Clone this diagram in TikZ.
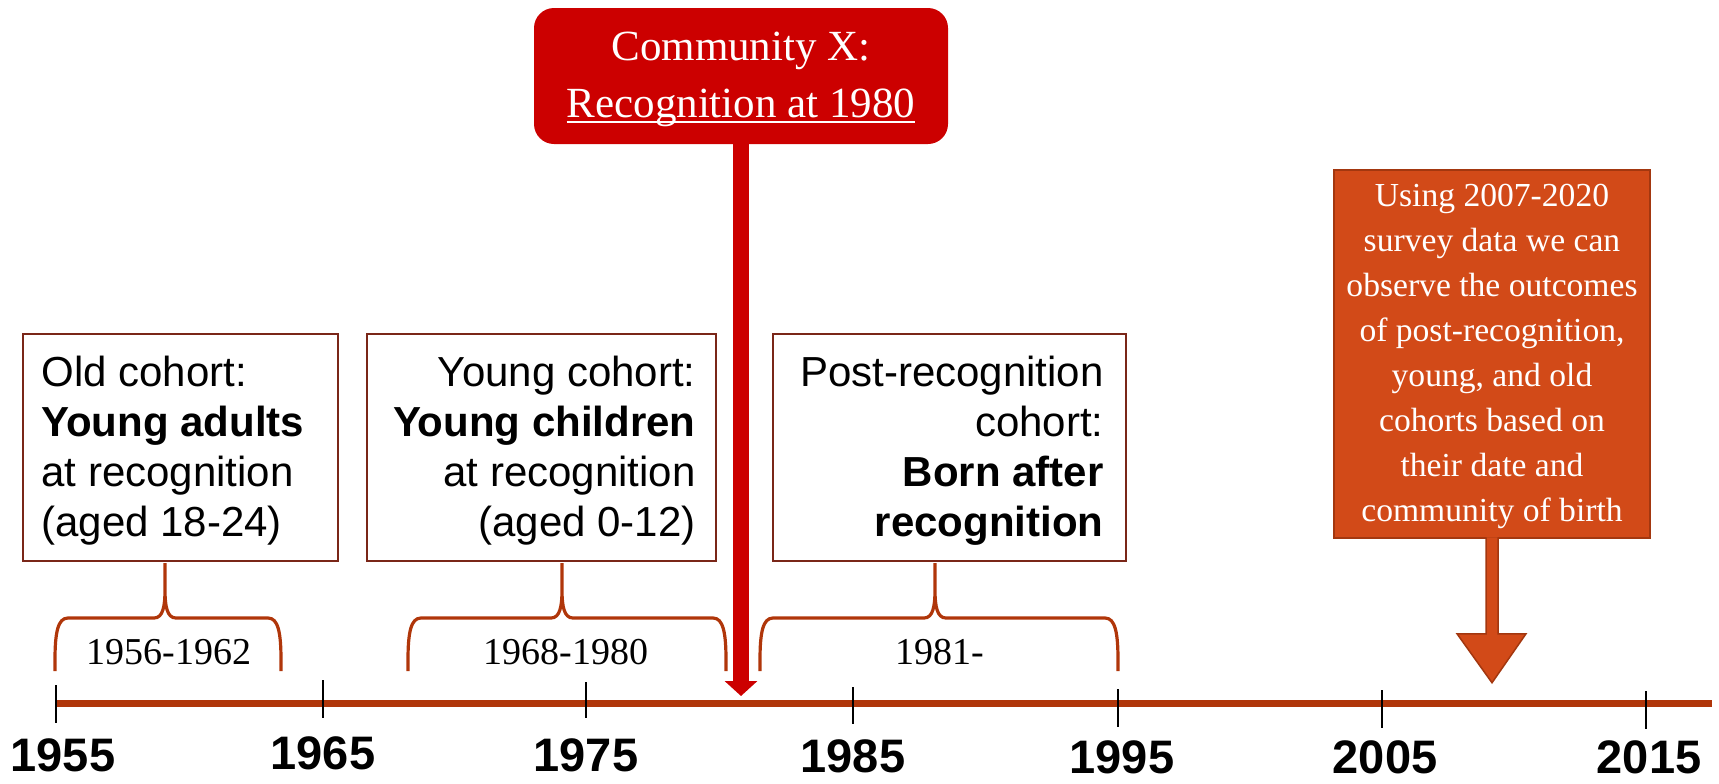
\documentclass[tikz,border=0pt]{standalone}
\usepackage{fontspec}
\setmainfont{Liberation Serif}
\setsansfont{Liberation Sans}
\usetikzlibrary{arrows.meta,calc}
\definecolor{recred}{HTML}{CC0000}
\definecolor{lineor}{HTML}{B0360A}
\definecolor{boxbrd}{HTML}{7A2618}
\definecolor{obsfill}{HTML}{D24A18}
\definecolor{obsbrd}{HTML}{A3370F}
\newcommand\myuline[1]{\setbox0\hbox{#1}\rlap{\rule[-3.1pt]{\wd0}{1.2pt}}\box0}
\newcommand\cohortbrace[3]{%
  \draw[cbrace] (#1,671) -- (#1,660) .. controls (#1,632) and (#1+3,618) .. (#1+13,618)
    -- (#2-11,618) .. controls (#2-2,618) and (#2,606) .. (#2,590) -- (#2,563)
    -- (#2,590) .. controls (#2,606) and (#2+2,618) .. (#2+11,618)
    -- (#3-13,618) .. controls (#3-3,618) and (#3,632) .. (#3,660) -- (#3,671);}
\begin{document}
\begin{tikzpicture}[x=0.5pt,y=-0.5pt,
  cohortbox/.style={draw=boxbrd, line width=1pt, fill=white, minimum height=113.5pt, inner sep=0pt},
  cohorttxt/.style={font=\sffamily\fontsize{21pt}{25pt}\selectfont, inner sep=0pt},
  recbox/.style={fill=recred, rounded corners=10pt, minimum width=207pt, minimum height=68pt, inner sep=0pt},
  rectxt/.style={text=white, font=\fontsize{21.5pt}{28.5pt}\selectfont, align=center, inner sep=0pt},
  obsbox/.style={fill=obsfill, draw=obsbrd, line width=0.75pt, minimum width=158pt, minimum height=184pt, inner sep=0pt},
  obstxt/.style={text=white, font=\fontsize{16.8pt}{22.5pt}\selectfont, align=center, inner sep=0pt},
  obsshape/.style={fill=obsfill, draw=obsbrd, line width=0.75pt, line join=miter},
  yearlbl/.style={font=\sffamily\bfseries\fontsize{23.5pt}{28pt}\selectfont, anchor=base, inner sep=0pt},
  bracelbl/.style={font=\fontsize{19pt}{22pt}\selectfont, anchor=base, inner sep=0pt},
  timeline/.style={draw=lineor, line width=3.75pt},
  tickmark/.style={draw=black, line width=1.4pt},
  cbrace/.style={draw=lineor, line width=1.6pt},
  recarrow/.style={draw=recred, line width=8pt, -{Triangle[width=16pt,length=7.5pt]}}
]
\useasboundingbox (0,0) rectangle (1719,783);

% braces
\cohortbrace{55}{165}{281}
\cohortbrace{408}{562}{726}
\cohortbrace{760}{935}{1118}

\node[bracelbl] (lbla) at (169,664) {1956-1962};
\node[bracelbl] (lblb) at (566,664) {1968-1980};
\node[bracelbl] (lblc) at (940,664) {1981-};

% cohort boxes
\node[cohortbox, minimum width=157.5pt] (old) at (180.5,447.5) {};
\node[cohorttxt, align=left, anchor=west] (oldtxt) at ($(old.west)+(19,3.5)$)
  {Old cohort:\\ \textbf{Young adults}\\ at recognition\\ (aged 18-24)};
\node[cohortbox, minimum width=174.5pt] (young) at (541.5,447.5) {};
\node[cohorttxt, align=right, anchor=east] (youngtxt) at ($(young.east)+(-21,3.5)$)
  {Young cohort:\\ \textbf{Young children}\\ at recognition\\ (aged 0-12)};
\node[cohortbox, minimum width=176.5pt] (post) at (949.5,447.5) {};
\node[cohorttxt, align=right, anchor=east] (posttxt) at ($(post.east)+(-23,3.5)$)
  {Post-recognition\\ cohort:\\ \textbf{Born after}\\ \textbf{recognition}};

% recognition box and arrow
\node[recbox] (rec) at (741,76) {};
\node[rectxt] (rectext) at (741,79) {Community X:\\ \myuline{Recognition at 1980}};
\coordinate (rectip) at (741,696);
\draw[recarrow] (rec.south) -- (rectip);

% observation box and arrow
\node[obsbox] (obs) at (1492,354) {};
\node[obstxt] (obstext) at (1492,356) {Using 2007-2020\\ survey data we can\\ observe the outcomes\\ of post-recognition,\\ young, and old\\ cohorts based on\\ their date and\\ community of birth};
\path[obsshape] ($(obs.south)+(-6,-1.5)$) -- ($(obs.south)+(-6,95)$) -- ($(obs.south)+(-35,95)$)
  -- ($(obs.south)+(0,144)$) -- ($(obs.south)+(34,95)$) -- ($(obs.south)+(6,95)$) -- ($(obs.south)+(6,-1.5)$);

% timeline
\coordinate (tstart) at (56,703.5);
\coordinate (tend) at (1712,703.5);
\draw[timeline] (tstart) -- (tend);
\draw[tickmark] (56,685) -- (56,723);
\draw[tickmark] (323,680) -- (323,718);
\draw[tickmark] (586,682) -- (586,718);
\draw[tickmark] (853,687) -- (853,724);
\draw[tickmark] (1118,689) -- (1118,727);
\draw[tickmark] (1382,690) -- (1382,728);
\draw[tickmark] (1646,691) -- (1646,729);

\node[yearlbl] (y1955) at (63,771) {1955};
\node[yearlbl] (y1965) at (323,769) {1965};
\node[yearlbl] (y1975) at (586,771) {1975};
\node[yearlbl] (y1985) at (853,772) {1985};
\node[yearlbl] (y1995) at (1122,773) {1995};
\node[yearlbl] (y2005) at (1385,773) {2005};
\node[yearlbl] (y2015) at (1649,773) {2015};
\end{tikzpicture}
\end{document}
